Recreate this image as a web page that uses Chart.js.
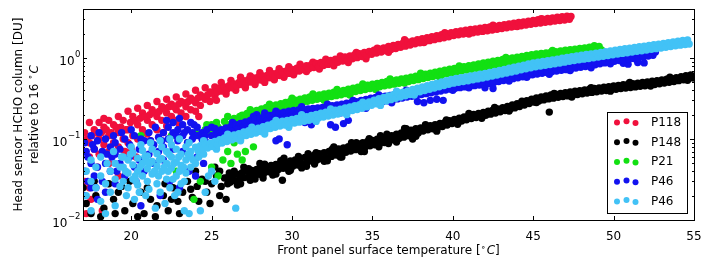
<!DOCTYPE html>
<html><head><meta charset="utf-8">
<script src="https://cdn.jsdelivr.net/npm/chart.js@4.4.1/dist/chart.umd.min.js"></script>
<style>html,body{margin:0;padding:0;background:#fff;overflow:hidden}canvas{display:block}</style>
</head><body>
<canvas id="c" width="708" height="265"></canvas>
<script>
// ---------------- DATA ----------------
const seriesNames = ['P118', 'P148', 'P21', 'P46', 'P46'];
const seriesColors = ['#f0103c', '#000000', '#12e012', '#1212f0', '#42c2f6'];
const xTicks = [20, 25, 30, 35, 40, 45, 50, 55];
const yTicks = [0.01, 0.1, 1];
const yTickExponents = ['\u22122', '\u22121', '0'];
const xRange = [17, 55];
const yRange = [0.01, 4.03];

// P118 (red): low-temperature cloud + dense band + rough edge points
const p118Cloud = [
[17.1,.07],[17.1,.12],[17.4,.09],[17.4,.16],[17.4,.06],[17.7,.075],[17.7,.13],[18.0,.10],[18.0,.16],[18.0,.065],
[18.3,.085],[18.3,.14],[18.6,.11],[18.6,.17],[18.6,.07],[18.9,.09],[18.9,.15],[19.2,.12],[19.2,.19],[19.2,.08],
[19.5,.10],[19.5,.17],[19.8,.13],[19.8,.22],[19.8,.09],[20.1,.11],[20.1,.19],[20.4,.15],[20.4,.24],[20.4,.10],
[20.7,.13],[20.7,.21],[21.0,.17],[21.0,.26],[21.0,.115],[21.3,.15],[21.3,.23],[21.6,.19],[21.6,.29],[21.6,.13],
[21.9,.17],[21.9,.25],[22.2,.21],[22.2,.31],[22.2,.145],[22.5,.19],[22.5,.27],[22.8,.23],[22.8,.33],[22.8,.17],
[23.1,.21],[23.1,.29],[23.4,.25],[23.4,.36],[23.4,.19],[23.7,.23],[23.7,.32],[24.0,.28],[24.0,.40],[24.0,.22],
[24.3,.26],[24.3,.35],[24.6,.31],[24.6,.43],[24.9,.29],[24.9,.38],[25.2,.34],[25.2,.44],
[17.25,.10],[17.55,.11],[17.85,.12],[18.15,.12],[18.45,.13],[18.75,.12],[19.05,.14],[19.35,.14],[19.65,.13],[19.95,.16],
[20.25,.17],[20.55,.18],[20.85,.19],[21.15,.20],[21.45,.21],[21.75,.22],[22.05,.24],[22.35,.25],[22.65,.25],[22.95,.27],
[23.25,.28],[23.55,.29],[23.85,.30],[24.15,.32],[24.45,.33],[24.75,.35],[25.05,.37],[25.35,.38],[18.3,.18],[20.0,.075],
[21.2,.095],[22.0,.12],[23.0,.15],[24.2,.19],
[17.2,.012],[17.5,.018],[18.2,.013],[17.1,.03],[19.2,.035],[18.6,.05],[17.4,.025],[20.3,.06],[19.6,.07],[17.9,.045]
];
const p118Rough = [
[25.3,.30],[25.6,.50],[25.9,.36],[26.2,.53],[26.5,.40],[26.8,.58],[27.1,.43],[27.4,.60],[27.7,.47],[28.0,.66],
[28.3,.50],[28.6,.70],[28.9,.54],[29.2,.74],[29.5,.58],[29.8,.78],[30.1,.62],[30.5,.84],[30.9,.68],[31.3,.89],
[31.7,.73],[32.1,.97],[32.6,.80],[33.0,1.06],[33.5,.88],[34.0,1.17],[34.6,.98],[35.3,1.32],[36.0,1.18],[37.0,1.68],
[38.2,1.55],[39.5,2.05],[41.0,1.98],[42.5,2.55],[44.0,2.45],[45.5,3.05]
];
const p118Band = [
[25.5,.42],[25.65,.39],[25.8,.44],[25.95,.41],[26.1,.46],[26.25,.43],[26.4,.48],[26.55,.45],[26.7,.50],[26.85,.47],
[27.0,.525],[27.15,.485],[27.3,.545],[27.45,.505],[27.6,.567],[27.75,.52],[27.9,.583],[28.05,.535],[28.2,.60],[28.35,.551],
[28.5,.62],[28.65,.57],[28.8,.64],[28.95,.589],[29.1,.66],[29.25,.608],[29.4,.683],[29.55,.627],[29.7,.704],[29.85,.646],
[30.0,.725],[30.15,.667],[30.3,.751],[30.45,.69],[30.6,.777],[30.75,.715],[30.9,.803],[31.05,.739],[31.2,.83],[31.35,.763],
[31.5,.856],[31.65,.787],[31.8,.882],[31.95,.81],[32.1,.908],[32.25,.834],[32.4,.935],[32.55,.86],[32.7,.966],[32.85,.888],
[33.0,.998],[33.15,.917],[33.3,1.029],[33.45,.945],[33.6,1.061],[33.75,.977],[33.9,1.097],[34.05,1.01],[34.2,1.134],[34.35,1.043],
[34.5,1.171],[34.65,1.076],[34.8,1.208],[34.95,1.112],[35.1,1.25],[35.25,1.15],[35.4,1.292],[35.55,1.188],[35.7,1.334],[35.85,1.23],
[36.0,1.386],[36.15,1.273],[36.3,1.428],[36.45,1.311],[36.6,1.47],[36.75,1.354],[36.9,1.523],[37.05,1.401],[37.2,1.575],[37.35,1.449],
[37.5,1.628],[37.65,1.496],[37.8,1.68],[37.95,1.544],[38.1,1.733],[38.25,1.591],[38.4,1.785],[38.55,1.639],[38.7,1.838],[38.85,1.686],
[39.0,1.89],[39.15,1.734],[39.3,1.943],[39.45,1.781],[39.6,1.995],[39.75,1.834],[39.9,2.058],[40.05,1.891],[40.2,2.121],[40.35,1.938],
[40.5,2.163],[40.65,1.976],[40.8,2.205],[40.95,2.014],[41.1,2.247],[41.25,2.052],[41.4,2.289],[41.55,2.09],[41.7,2.331],[41.85,2.133],
[42.0,2.384],[42.15,2.176],[42.3,2.426],[42.45,2.218],[42.6,2.478],[42.75,2.266],[42.9,2.531],[43.05,2.313],[43.2,2.583],[43.35,2.361],
[43.5,2.636],[43.65,2.408],[43.8,2.688],[43.95,2.456],[44.1,2.741],[44.25,2.503],[44.4,2.793],[44.55,2.551],[44.7,2.846],[44.85,2.608],
[45.0,2.919],[45.15,2.665],[45.3,2.972],[45.45,2.712],[45.6,3.024],[45.75,2.76],[45.9,3.077],[46.05,2.807],[46.2,3.129],[46.35,2.855],
[46.5,3.182],[46.65,2.902],[46.8,3.234],[46.95,2.95],[47.1,3.287],[47.25,3.002],[47.35,3.25]
];

// P148 (black)
const p148Cloud = [
[17.2,.016],[17.5,.012],[17.8,.02],[18.3,.014],[18.9,.018],[19.2,.022],[19.6,.013],[20.4,.011],[20.8,.012],[21.2,.018],
[21.6,.015],[22.0,.02],[22.3,.013],[22.6,.025],[22.9,.017],[23.2,.022],[23.5,.03],[23.8,.019],[24.1,.026],[24.4,.032],
[24.7,.022],[25.0,.028],[25.3,.035],[25.6,.026],[25.8,.033],[24.9,.016],[25.5,.02],[21.0,.025],[19.9,.03],[18.6,.028],
[25.9,.018],[24.2,.017],[26.1,.038],[46.0,.215],[29.4,.031],
[17.0,.025],[17.7,.03],[18.1,.011],[19.0,.012],[19.4,.026],[20.1,.016],[21.5,.011],[22.5,.018],[23.0,.012],[23.7,.024],
[24.0,.04],[24.6,.03],[25.2,.045],[25.5,.04],[26.0,.028],[22.1,.028],[20.6,.022],
[26.6,.027],[27.4,.031],[28.2,.033],[29.0,.037],[29.8,.040],[30.6,.044],[31.4,.049],[32.2,.054],[33.0,.060],
[27.0,.045],[28.0,.050],[29.5,.058],[31.0,.066],[32.5,.075],[34.0,.090],[35.5,.110],[37.0,.135],[34.5,.070],[36.0,.088],
[37.5,.100],[39.0,.125]
];
const p148Rough = [
[26.4,.040],[26.8,.028],[27.3,.043],[27.7,.032],[28.3,.049],[28.8,.036],[29.3,.054],[29.9,.041],[30.4,.061],[30.9,.046],
[31.5,.068],[32.0,.053],[32.6,.080],[33.1,.060],[33.7,.090],[34.3,.070],[34.8,.101],[35.4,.080],[35.9,.115],[36.5,.092],
[37.1,.134],[37.7,.108],[38.3,.150],[39.0,.130],[39.6,.172],[40.3,.152],[41.0,.207],[41.8,.180],[42.6,.245],[43.5,.222],
[44.3,.292],[45.2,.282],[46.3,.366],[47.4,.330],[48.6,.43],[49.8,.39],[51.0,.50],[52.3,.45],[53.5,.58],[54.6,.53]
];
const p148Band = [
[26.0,.0335],[26.15,.0293],[26.3,.0351],[26.45,.0306],[26.6,.0367],[26.75,.032],[26.9,.0383],[27.05,.0334],[27.2,.04],[27.35,.0345],
[27.5,.041],[27.65,.0354],[27.8,.0421],[27.95,.0366],[28.1,.0437],[28.25,.0379],[28.4,.0454],[28.55,.0393],[28.7,.047],[28.85,.0407],
[29.0,.0486],[29.15,.0421],[29.3,.0502],[29.45,.0435],[29.6,.0518],[29.75,.0449],[29.9,.0535],[30.05,.0462],[30.2,.0551],[30.35,.0478],
[30.5,.0572],[30.65,.0497],[30.8,.0594],[30.95,.0515],[31.1,.0616],[31.25,.0534],[31.4,.0637],[31.55,.0552],[31.7,.0659],[31.85,.0571],
[32.0,.068],[32.15,.0589],[32.3,.0702],[32.45,.061],[32.6,.0729],[32.75,.0633],[32.9,.0756],[33.05,.0656],[33.2,.0776],[33.35,.0685],
[33.5,.0803],[33.65,.0712],[33.8,.0835],[33.95,.0739],[34.1,.0867],[34.25,.0767],[34.4,.0899],[34.55,.0795],[34.7,.0931],[34.85,.0823],
[35.0,.0963],[35.15,.0851],[35.3,.0995],[35.45,.0879],[35.6,.1027],[35.75,.0907],[35.9,.1059],[36.05,.094],[36.2,.1102],[36.35,.0977],
[36.5,.1145],[36.65,.1014],[36.8,.1188],[36.95,.1055],[37.1,.1241],[37.25,.1098],[37.4,.1284],[37.55,.1139],[37.7,.1338],[37.85,.1186],
[38.0,.1365],[38.15,.1254],[38.3,.1407],[38.45,.1297],[38.6,.146],[38.75,.134],[38.9,.1502],[39.05,.1383],[39.2,.1554],[39.35,.143],
[39.5,.1607],[39.65,.1487],[39.8,.168],[39.95,.1549],[40.1,.1743],[40.25,.1606],[40.4,.1806],[40.55,.1663],[40.7,.1869],[40.85,.1724],
[41.0,.1943],[41.15,.1786],[41.3,.2006],[41.45,.1843],[41.6,.2069],[41.75,.19],[41.9,.2132],[42.05,.1962],[42.2,.2205],[42.35,.2028],
[42.5,.2279],[42.65,.2095],[42.8,.2352],[42.95,.2166],[43.1,.2436],[43.25,.2247],[43.4,.2531],[43.55,.2332],[43.7,.2625],[43.85,.2423],
[44.0,.273],[44.15,.2522],[44.3,.2846],[44.45,.2632],[44.6,.2972],[44.75,.275],[44.9,.3108],[45.05,.2855],[45.2,.3203],[45.35,.2945],
[45.5,.3308],[45.65,.304],[45.8,.3413],[45.95,.3126],[46.1,.3497],[46.25,.3196],[46.4,.357],[46.55,.3268],[46.7,.3654],[46.85,.3339],
[47.0,.3728],[47.15,.3406],[47.3,.3801],[47.45,.3477],[47.6,.3885],[47.75,.3548],[47.9,.3959],[48.05,.362],[48.2,.4043],[48.35,.3691],
[48.5,.4116],[48.65,.3762],[48.8,.42],[48.95,.3833],[49.1,.4274],[49.25,.3909],[49.4,.4358],[49.55,.3976],[49.7,.4431],[49.85,.4052],
[50.0,.4515],[50.15,.4118],[50.3,.4589],[50.45,.419],[50.6,.4673],[50.75,.4261],[50.9,.4746],[51.05,.4332],[51.2,.483],[51.35,.4403],
[51.5,.4904],[51.65,.4475],[51.8,.4988],[51.95,.4551],[52.1,.5072],[52.25,.4631],[52.4,.5166],[52.55,.4717],[52.7,.5261],[52.85,.4803],
[53.0,.5355],[53.15,.4902],[53.3,.5481],[53.45,.5016],[53.6,.5607],[53.75,.513],[53.9,.5733],[54.05,.5254],[54.2,.588],[54.35,.5391],
[54.5,.6038],[54.65,.5534],[54.8,.6195],[54.95,.5676]
];

// P21 (green)
const p21Cloud = [
[20.6,.11],[22.8,.04],[23.9,.018],[24.3,.03],[24.5,.08],[24.8,.12],[25.0,.045],[25.2,.13],[25.4,.035],[25.5,.10],
[25.7,.055],[25.9,.14],[26.0,.07],[26.2,.05],[26.4,.09],[26.6,.065],[26.3,.16],[26.8,.18],[24.7,.15],[25.3,.16],
[23.5,.09],[24.0,.12],[22.5,.11],[26.9,.055],[27.1,.07],[27.6,.08],
[24.6,.13],[25.0,.15],[25.4,.14],[25.8,.165],[26.1,.15],[26.4,.18],[26.6,.17],[26.75,.19],[25.6,.12],[26.0,.19]
];
const p21Rough = [
[27.4,.23],[28.0,.19],[28.6,.27],[29.3,.23],[30.0,.32],[30.6,.27],[31.3,.36],[32.0,.30],[32.8,.41],[33.6,.35],
[34.4,.48],[35.2,.41],[36.1,.55],[37.0,.49],[38.0,.65],[39.2,.58],[40.4,.80],[41.8,.74],[43.3,1.02],[44.8,.94],
[46.2,1.24],[47.6,1.12],[48.8,1.42]
];
const p21Band = [
[26.9,.197],[27.05,.181],[27.2,.207],[27.35,.189],[27.5,.216],[27.65,.198],[27.8,.226],[27.95,.206],[28.1,.235],[28.25,.215],
[28.4,.245],[28.55,.223],[28.7,.254],[28.85,.232],[29.0,.264],[29.15,.241],[29.3,.273],[29.45,.249],[29.6,.283],[29.75,.258],
[29.9,.292],[30.05,.266],[30.2,.302],[30.35,.275],[30.5,.311],[30.65,.283],[30.8,.321],[30.95,.292],[31.1,.33],[31.25,.30],
[31.4,.34],[31.55,.309],[31.7,.349],[31.85,.317],[32.0,.359],[32.15,.326],[32.3,.368],[32.45,.334],[32.6,.378],[32.75,.343],
[32.9,.387],[33.05,.352],[33.2,.399],[33.35,.363],[33.5,.411],[33.65,.374],[33.8,.424],[33.95,.386],[34.1,.437],[34.25,.397],
[34.4,.449],[34.55,.408],[34.7,.462],[34.85,.42],[35.0,.475],[35.15,.431],[35.3,.487],[35.45,.442],[35.6,.50],[35.75,.454],
[35.9,.513],[36.05,.465],[36.2,.525],[36.35,.476],[36.5,.538],[36.65,.488],[36.8,.551],[36.95,.499],[37.1,.564],[37.25,.513],
[37.4,.58],[37.55,.527],[37.7,.596],[37.85,.541],[38.0,.612],[38.15,.557],[38.3,.631],[38.45,.574],[38.6,.65],[38.75,.591],
[38.9,.669],[39.05,.608],[39.2,.688],[39.35,.625],[39.5,.707],[39.65,.642],[39.8,.726],[39.95,.659],[40.1,.745],[40.25,.676],
[40.4,.764],[40.55,.693],[40.7,.783],[40.85,.71],[41.0,.802],[41.15,.728],[41.3,.824],[41.45,.748],[41.6,.846],[41.75,.768],
[41.9,.868],[42.05,.788],[42.2,.89],[42.35,.808],[42.5,.913],[42.65,.827],[42.8,.935],[42.95,.847],[43.1,.957],[43.25,.867],
[43.4,.979],[43.55,.887],[43.7,1.001],[43.85,.907],[44.0,1.023],[44.15,.928],[44.3,1.049],[44.45,.951],[44.6,1.074],[44.75,.973],
[44.9,1.099],[45.05,.994],[45.2,1.12],[45.35,1.012],[45.5,1.139],[45.65,1.029],[45.8,1.158],[45.95,1.047],[46.1,1.178],[46.25,1.065],
[46.4,1.201],[46.55,1.085],[46.7,1.223],[46.85,1.105],[47.0,1.245],[47.15,1.125],[47.3,1.267],[47.45,1.145],[47.6,1.289],[47.75,1.165],
[47.9,1.311],[48.05,1.185],[48.2,1.334],[48.35,1.204],[48.5,1.356],[48.65,1.224],[48.8,1.378],[48.95,1.241],[49.1,1.393],[49.25,1.257]
];

// P46 (blue)
const p46aCloud = [
[17.1,.09],[17.1,.04],[17.1,.02],[17.3,.06],[17.3,.03],[17.5,.11],[17.5,.05],[17.5,.025],[17.7,.075],[17.7,.035],
[17.9,.095],[17.9,.045],[17.9,.018],[18.2,.07],[18.2,.03],[18.4,.10],[18.4,.05],[18.4,.022],[18.7,.08],[18.7,.04],
[19.0,.065],[19.0,.09],[19.0,.028],[19.3,.05],[19.3,.075],[19.6,.10],[19.6,.035],[19.9,.06],[19.9,.085],[20.2,.045],
[20.2,.11],[20.5,.075],[20.5,.055],[20.8,.095],[20.8,.04],[21.1,.065],[21.1,.12],[21.4,.085],[21.4,.05],[21.7,.105],
[21.7,.07],[22.0,.12],[22.0,.08],[22.0,.055],[22.3,.10],[22.3,.14],[22.6,.075],[22.6,.12],[22.6,.16],[22.9,.095],
[22.9,.13],[23.2,.11],[23.2,.15],[23.2,.07],[23.5,.09],[23.5,.13],[23.8,.12],[23.8,.10],[24.1,.11],[24.1,.14],
[24.1,.06],[24.4,.10],[24.4,.12],[24.7,.13],[24.7,.09],[25.0,.11],[25.0,.14],[25.3,.12],[25.3,.10],[25.6,.13],[25.6,.11],
[22.4,.03],[23.0,.025],[23.6,.04],[21.8,.02],[20.6,.015],[24.5,.05],[24.0,.035],
[17.2,.07],[17.6,.085],[18.0,.12],[18.5,.065],[18.9,.11],[19.4,.12],[20.0,.13],[20.6,.10],[21.2,.095],[21.9,.095],
[22.8,.11],[23.3,.12],[23.9,.15],[24.6,.11],[25.2,.135],[25.8,.12],[19.1,.04],[20.3,.03],[17.8,.025],[18.8,.06],
[21.5,.14],[22.2,.17],[23.0,.18],[23.7,.16],
[37.8,.29],[38.2,.28],[38.6,.30],[39.0,.31],[39.4,.30],[42.0,.43],[42.5,.42],[50.6,.86],[50.9,.84],[51.5,.88],[51.9,.87],
[32.4,.15],[32.7,.14],[33.5,.17],[29.0,.095],[29.2,.10],[26.4,.11],[26.1,.10],[30.8,.16],[31.2,.15],[27.8,.20],[28.3,.21],
[29.7,.085],[33.2,.155]
];
const p46aRough = [
[26.3,.16],[27.0,.13],[27.6,.19],[28.4,.15],[29.0,.22],[29.9,.17],[30.6,.25],[31.4,.19],[32.2,.27],[33.0,.21],
[33.8,.30],[34.6,.24],[35.4,.35],[36.2,.28],[37.1,.40],[40.0,.40],[41.0,.43],[43.5,.52],[44.6,.58],[46.0,.63],
[47.3,.70],[48.6,.76],[49.8,.85]
];
const p46aBand = [
[25.9,.137],[26.05,.122],[26.2,.143],[26.35,.127],[26.5,.15],[26.65,.133],[26.8,.156],[26.95,.139],[27.1,.163],[27.25,.144],
[27.4,.169],[27.55,.15],[27.7,.175],[27.85,.155],[28.0,.182],[28.15,.161],[28.3,.188],[28.45,.167],[28.6,.195],[28.75,.172],
[28.9,.201],[29.05,.178],[29.2,.208],[29.35,.183],[29.5,.214],[29.65,.189],[29.8,.22],[29.95,.194],[30.1,.226],[30.25,.198],
[30.4,.229],[30.55,.201],[30.7,.232],[30.85,.203],[31.0,.235],[31.15,.206],[31.3,.239],[31.45,.209],[31.6,.242],[31.75,.212],
[31.9,.245],[32.05,.216],[32.2,.25],[32.35,.22],[32.5,.257],[32.65,.226],[32.8,.263],[32.95,.232],[33.1,.27],[33.25,.237],
[33.4,.276],[33.55,.243],[33.7,.282],[33.85,.248],[34.0,.289],[34.15,.255],[34.3,.299],[34.45,.264],[34.6,.308],[34.75,.272],
[34.9,.318],[35.05,.28],[35.2,.325],[35.35,.286],[35.5,.332],[35.65,.291],[35.8,.338],[35.95,.297],[36.1,.346],[36.25,.305],
[36.4,.355],[36.55,.313],[36.7,.365],[36.85,.321],[37.0,.375],[37.15,.33],[37.3,.384],[37.45,.338],[37.6,.394],[37.75,.346],
[37.9,.403],[38.05,.355],[38.2,.413],[38.35,.363],[38.5,.423],[38.65,.372],[38.8,.432],[38.95,.38],[39.1,.443],[39.25,.391],
[39.4,.456],[39.55,.402],[39.7,.469],[39.85,.413],[40.0,.482],[40.15,.423],[40.3,.491],[40.45,.431],[40.6,.501],[40.75,.44],
[40.9,.51],[41.05,.448],[41.2,.52],[41.35,.456],[41.5,.53],[41.65,.464],[41.8,.539],[41.95,.474],[42.1,.551],[42.25,.486],
[42.4,.567],[42.55,.50],[42.7,.583],[42.85,.514],[43.0,.599],[43.15,.528],[43.3,.615],[43.45,.542],[43.6,.631],[43.75,.556],
[43.9,.647],[44.05,.571],[44.2,.666],[44.35,.587],[44.5,.685],[44.65,.604],[44.8,.704],[44.95,.62],[45.1,.722],[45.25,.635],
[45.4,.738],[45.55,.649],[45.7,.754],[45.85,.663],[46.0,.77],[46.15,.677],[46.3,.786],[46.45,.691],[46.6,.803],[46.75,.704],
[46.9,.819],[47.05,.719],[47.2,.837],[47.35,.736],[47.5,.856],[47.65,.752],[47.8,.875],[47.95,.769],[48.1,.895],[48.25,.787],
[48.4,.917],[48.55,.807],[48.7,.939],[48.85,.827],[49.0,.963],[49.15,.848],[49.3,.989],[49.45,.87],[49.6,1.014],[49.75,.893],
[49.9,1.04],[50.05,.912],[50.2,1.059],[50.35,.929],[50.5,1.079],[50.65,.946],[50.8,1.098],[50.95,.965],[51.1,1.121],[51.25,.986],
[51.4,1.147],[51.55,1.008],[51.7,1.173],[51.85,1.031],[52.0,1.198],[52.15,1.056],[52.3,1.231],[52.45,1.083],[52.6,1.19]
];

// P46 (light blue)
const p46bCloud = [
[19.5,.03],[19.5,.045],[19.5,.06],[19.8,.038],[19.8,.055],[19.8,.025],[20.1,.032],[20.1,.048],[20.1,.068],[20.4,.04],
[20.4,.058],[20.4,.027],[20.7,.035],[20.7,.05],[20.7,.072],[21.0,.043],[21.0,.062],[21.0,.03],[21.3,.037],[21.3,.053],
[21.3,.075],[21.6,.046],[21.6,.066],[21.6,.028],[21.9,.04],[21.9,.057],[21.9,.08],[22.2,.05],[22.2,.07],[22.2,.032],
[22.5,.044],[22.5,.06],[22.5,.085],[22.8,.052],[22.8,.075],[22.8,.035],[23.1,.047],[23.1,.065],[23.1,.028],[23.4,.055],
[23.4,.08],[23.4,.038],[23.7,.06],[23.7,.045],[23.7,.07],[24.0,.05],
[19.65,.04],[19.95,.065],[20.25,.035],[20.55,.045],[20.85,.06],[21.15,.05],[21.45,.04],[21.75,.055],[22.05,.045],[22.35,.065],
[22.65,.05],[22.95,.06],[23.25,.045],[23.55,.065],[23.85,.055],[20.0,.08],[20.6,.085],[21.2,.09],[21.8,.095],[22.4,.10],
[23.0,.10],[23.6,.09],[24.2,.06],[24.5,.065],[19.7,.02],[20.5,.022],[21.1,.024],[21.8,.022],[22.4,.025],[23.0,.04],
[22.9,.022],[20.3,.03],[21.0,.052],[21.7,.035],[22.3,.04],[22.6,.032],[23.3,.03],[19.4,.06],[18.9,.07],[18.5,.05],
[17.2,.02],[17.2,.04],[17.5,.013],[17.5,.03],[17.5,.055],[17.8,.025],[17.8,.045],[18.1,.017],[18.1,.035],[18.1,.06],
[18.4,.028],[18.4,.012],[18.7,.04],[18.7,.022],[19.0,.015],[19.0,.032],[19.0,.05],[19.3,.026],[19.3,.045],
[20.2,.018],[20.9,.02],[21.5,.014],[22.1,.016],[22.7,.02],[23.3,.013],[23.6,.012],[24.3,.013],[24.6,.022],[25.2,.03],
[25.0,.04],[26.5,.014],[24.8,.035]
];
const p46bRough = [
[24.5,.095],[25.3,.075],[26.0,.115],[26.8,.095],[27.5,.14],[28.3,.115],[29.0,.17],[29.8,.14],[30.6,.20],[31.5,.165],
[32.4,.235],[33.4,.20],[34.4,.285],[35.5,.26],[36.5,.39],[37.6,.35]
];
const p46bBand = [
[24.0,.0795],[24.15,.0719],[24.3,.0827],[24.45,.0747],[24.6,.0859],[24.75,.0776],[24.9,.089],[25.05,.0808],[25.2,.0933],[25.35,.0848],
[25.5,.0981],[25.65,.0891],[25.8,.1028],[25.95,.0933],[26.1,.1076],[26.25,.0975],[26.4,.1124],[26.55,.1015],[26.7,.1166],[26.85,.1057],
[27.0,.1219],[27.15,.1102],[27.3,.1267],[27.45,.1144],[27.6,.1314],[27.75,.1187],[27.9,.1362],[28.05,.1234],[28.2,.142],[28.35,.1288],
[28.5,.1484],[28.65,.1344],[28.8,.1548],[28.95,.1398],[29.1,.1606],[29.25,.1445],[29.4,.1654],[29.55,.1487],[29.7,.1701],[29.85,.153],
[30.0,.1749],[30.15,.1572],[30.3,.1797],[30.45,.1614],[30.6,.1844],[30.75,.1657],[30.9,.1892],[31.05,.1707],[31.2,.195],[31.35,.1758],
[31.5,.2014],[31.65,.1814],[31.8,.2078],[31.95,.187],[32.1,.2141],[32.25,.1927],[32.4,.2205],[32.55,.1983],[32.7,.2268],[32.85,.204],
[33.0,.2332],[33.15,.2103],[33.3,.2412],[33.45,.2174],[33.6,.2491],[33.75,.2244],[33.9,.2571],[34.05,.2315],[34.2,.265],[34.35,.2397],
[34.5,.2756],[34.65,.2491],[34.8,.2862],[34.95,.2603],[35.1,.301],[35.25,.2726],[35.4,.3138],[35.55,.2839],[35.7,.3265],[35.85,.2952],
[36.0,.3392],[36.15,.3064],[36.3,.3519],[36.45,.3177],[36.6,.3646],[36.75,.329],[36.9,.3774],[37.05,.3412],[37.2,.3922],[37.35,.3549],
[37.5,.4081],[37.65,.369],[37.8,.424],[37.95,.383],[38.1,.4399],[38.25,.3971],[38.4,.4558],[38.55,.4112],[38.7,.4717],[38.85,.4253],
[39.0,.4876],[39.15,.4409],[39.3,.5067],[39.45,.4578],[39.6,.5258],[39.75,.4747],[39.9,.5448],[40.05,.4897],[40.2,.5597],[40.35,.502],
[40.5,.5724],[40.65,.5133],[40.8,.5851],[40.95,.525],[41.1,.5989],[41.25,.5381],[41.4,.6148],[41.55,.5522],[41.7,.6307],[41.85,.5664],
[42.0,.6466],[42.15,.5818],[42.3,.6657],[42.45,.5988],[42.6,.6848],[42.75,.6157],[42.9,.7038],[43.05,.6336],[43.2,.725],[43.35,.6528],
[43.5,.7473],[43.65,.6725],[43.8,.7696],[43.95,.6927],[44.1,.7929],[44.25,.7144],[44.4,.8183],[44.55,.737],[44.7,.8438],[44.85,.7595],
[45.0,.8692],[45.15,.7792],[45.3,.8883],[45.45,.7961],[45.6,.9074],[45.75,.813],[45.9,.9264],[46.05,.8309],[46.2,.9476],[46.35,.8501],
[46.5,.9699],[46.65,.8699],[46.8,.9922],[46.95,.8897],[47.1,1.0144],[47.25,.9094],[47.4,1.0367],[47.55,.9292],[47.7,1.0589],[47.85,.9489],
[48.0,1.0812],[48.15,.9687],[48.3,1.1035],[48.45,.9884],[48.6,1.1257],[48.75,1.0082],[48.9,1.148],[49.05,1.0288],[49.2,1.1724],[49.35,1.0508],
[49.5,1.1978],[49.65,1.0735],[49.8,1.2232],[49.95,1.0961],[50.1,1.2487],[50.25,1.1186],[50.4,1.2741],[50.55,1.1412],[50.7,1.2996],[50.85,1.1637],
[51.0,1.325],[51.15,1.1863],[51.3,1.3504],[51.45,1.2088],[51.6,1.3759],[51.75,1.2314],[51.9,1.4013],[52.05,1.2549],[52.2,1.4289],[52.35,1.2798],
[52.5,1.4575],[52.65,1.3052],[52.8,1.4861],[52.95,1.3314],[53.1,1.5158],[53.25,1.3583],[53.4,1.5476],[53.55,1.3865],[53.7,1.5794],[53.85,1.4147],
[54.0,1.6112],[54.15,1.4429],[54.3,1.643],[54.45,1.4687],[54.6,1.6695],[54.7,1.49]
];

const seriesData = [
  p118Cloud.concat(p118Rough, p118Band),
  p148Cloud.concat(p148Rough, p148Band),
  p21Cloud.concat(p21Rough, p21Band),
  p46aCloud.concat(p46aRough, p46aBand),
  p46bCloud.concat(p46bRough, p46bBand)
];

// ---------------- CHART ----------------
const FONT = '"DejaVu Sans", "Liberation Sans", sans-serif';

function drawRich(ctx, segs, cx, baseY) {
  let total = 0;
  segs.forEach(s => { ctx.font = s.f; s.w = ctx.measureText(s.t).width + (s.gap || 0); total += s.w; });
  let x = cx - total / 2;
  ctx.textAlign = 'left';
  ctx.textBaseline = 'alphabetic';
  segs.forEach(s => { ctx.font = s.f; ctx.fillText(s.t, x, baseY + (s.dy || 0)); x += s.w; });
}

const decorations = {
  id: 'decorations',
  afterDatasetsDraw(chart) {
    const ctx = chart.ctx, a = chart.chartArea, xs = chart.scales.x, ys = chart.scales.y;
    ctx.save();
    ctx.strokeStyle = '#000';
    ctx.fillStyle = '#000';
    ctx.lineWidth = 1;
    ctx.beginPath();
    xTicks.forEach(v => {
      const px = Math.round(xs.getPixelForValue(v)) + 0.5;
      ctx.moveTo(px, a.bottom); ctx.lineTo(px, a.bottom - 4);
      ctx.moveTo(px, a.top); ctx.lineTo(px, a.top + 4);
    });
    yTicks.forEach(v => {
      const py = Math.round(ys.getPixelForValue(v)) + 0.5;
      ctx.moveTo(a.left, py); ctx.lineTo(a.left + 4, py);
      ctx.moveTo(a.right, py); ctx.lineTo(a.right - 4, py);
      for (let m = 2; m <= 9; m++) {
        const mv = v * m;
        if (mv > yRange[1]) break;
        const pm = Math.round(ys.getPixelForValue(mv)) + 0.5;
        ctx.moveTo(a.left, pm); ctx.lineTo(a.left + 2, pm);
        ctx.moveTo(a.right, pm); ctx.lineTo(a.right - 2, pm);
      }
    });
    ctx.stroke();
    ctx.strokeRect(Math.round(a.left) + 0.5, Math.round(a.top) + 0.5,
                   Math.round(a.right - a.left), Math.round(a.bottom - a.top));
    ctx.font = '12px ' + FONT;
    ctx.textAlign = 'center';
    ctx.textBaseline = 'alphabetic';
    xTicks.forEach(v => ctx.fillText(String(v), xs.getPixelForValue(v), 240));
    yTicks.forEach((v, i) => {
      const py = ys.getPixelForValue(v);
      const right = a.left - 2.5;
      ctx.textAlign = 'right';
      ctx.font = '8.5px ' + FONT;
      const ew = ctx.measureText(yTickExponents[i]).width;
      ctx.fillText(yTickExponents[i], right, py - 1.5);
      ctx.font = '12px ' + FONT;
      ctx.fillText('10', right - ew - 0.5, py + 6.5);
    });
    drawRich(ctx, [
      {t: 'Front panel surface temperature [', f: '12px ' + FONT},
      {t: '\u2218', f: '9px ' + FONT, dy: -4.5, gap: 0.5},
      {t: 'C', f: 'italic 12px ' + FONT},
      {t: ']', f: '12px ' + FONT}
    ], (a.left + a.right) / 2, 254);
    const cy = (a.top + a.bottom) / 2;
    ctx.save();
    ctx.translate(21.5, cy);
    ctx.rotate(-Math.PI / 2);
    drawRich(ctx, [{t: 'Head sensor HCHO column [DU]', f: '12px ' + FONT}], 0, 0);
    ctx.restore();
    ctx.save();
    ctx.translate(37.5, cy);
    ctx.rotate(-Math.PI / 2);
    drawRich(ctx, [
      {t: 'relative to 16 ', f: '12px ' + FONT},
      {t: '\u2218', f: '9px ' + FONT, dy: -4.5, gap: 0.5},
      {t: 'C', f: 'italic 12px ' + FONT}
    ], 0, 0);
    ctx.restore();
    // legend
    const lx = 607.5, ly = 112.5, lw = 80, lh = 101;
    ctx.fillStyle = '#fff';
    ctx.fillRect(lx, ly, lw, lh);
    ctx.strokeStyle = '#000';
    ctx.strokeRect(lx, ly, lw, lh);
    const dotX = [617, 626.5, 635.5], dotDY = [0.3, -1, 0.8];
    seriesNames.forEach((name, i) => {
      const ry = 122.3 + i * 19.7;
      ctx.fillStyle = seriesColors[i];
      dotX.forEach((dx, k) => { ctx.beginPath(); ctx.arc(dx, ry + dotDY[k], 3, 0, Math.PI * 2); ctx.fill(); });
      ctx.fillStyle = '#000';
      ctx.font = '12px ' + FONT;
      ctx.textAlign = 'left';
      ctx.textBaseline = 'middle';
      ctx.fillText(name, 651, ry + 0.5);
    });
    ctx.restore();
  }
};

new Chart(document.getElementById('c'), {
  type: 'scatter',
  data: {
    datasets: seriesData.map((d, i) => ({
      label: seriesNames[i],
      data: d.map(p => ({x: p[0], y: p[1]})),
      backgroundColor: seriesColors[i],
      borderColor: seriesColors[i],
      pointRadius: 3.7,
      pointBorderWidth: 0,
      pointHoverRadius: 3.7,
      order: seriesData.length - i,
      clip: 0
    }))
  },
  options: {
    responsive: false,
    animation: false,
    devicePixelRatio: 1,
    layout: {padding: {left: 83, right: 14, top: 9, bottom: 45}},
    events: [],
    plugins: {legend: {display: false}, tooltip: {enabled: false}},
    scales: {
      x: {type: 'linear', min: xRange[0], max: xRange[1], display: false},
      y: {type: 'logarithmic', min: yRange[0], max: yRange[1], display: false}
    }
  },
  plugins: [decorations]
});
</script>
</body></html>
